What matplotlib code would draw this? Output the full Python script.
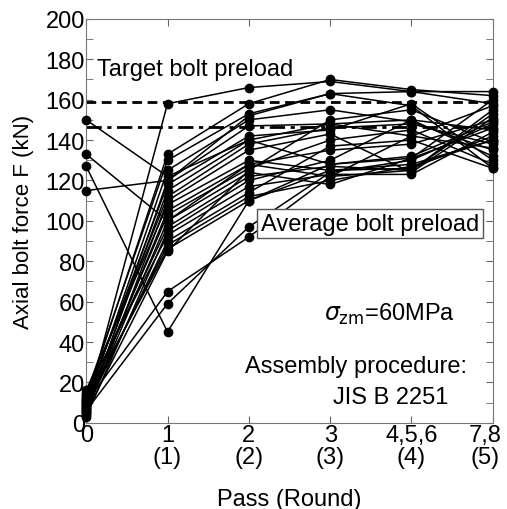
import numpy as np
import matplotlib
matplotlib.use("Agg")
import matplotlib.pyplot as plt
from matplotlib.ticker import MultipleLocator
from matplotlib.transforms import ScaledTranslation

plt.rcParams['font.family'] = ['Liberation Sans', 'DejaVu Sans']

# pass positions and tick labels
passes = [0, 1, 2, 3, 4, 5]
pass_labels = ["0", "1\n(1)", "2\n(2)", "3\n(3)", "4,5,6\n(4)", "7,8\n(5)"]

# bolt forces (kN) per pass
p0 = [150, 133, 127, 115, 8, 10, 6, 12, 14, 9, 5, 11, 7, 13, 4, 16, 8, 10, 6, 12, 3, 15, 7, 9, 11, 5]
p1 = [122, 100, 45, 120, 158, 65, 59, 133, 130, 125, 120, 118, 115, 112, 110, 108, 105, 103, 100, 97, 95, 93, 90, 88, 86, 85]
p2 = [140, 128, 110, 152, 166, 92, 97, 158, 153, 150, 147, 142, 140, 138, 135, 130, 128, 126, 124, 122, 120, 117, 114, 112, 110, 125]
p3 = [148, 135, 125, 163, 169, 122, 124, 170, 163, 155, 148, 145, 128, 146, 143, 125, 122, 140, 118, 127, 130, 123, 137, 120, 128, 150]
p4 = [150, 138, 128, 164, 164, 125, 130, 165, 157, 149, 142, 158, 131, 148, 124, 126, 142, 145, 131, 125, 150, 123, 140, 127, 132, 155]
p5 = [145, 150, 140, 158, 164, 155, 148, 162, 126, 135, 157, 130, 160, 138, 151, 142, 136, 128, 146, 153, 132, 144, 126, 140, 149, 139]

target = 159
average = 146.5

fs = 17

fig = plt.figure(figsize=(5.07, 5.10), dpi=100)
ax = fig.add_axes([0.170, 0.169, 0.802, 0.792])

for i in range(len(p0)):
    ys = [p0[i], p1[i], p2[i], p3[i], p4[i], p5[i]]
    ax.plot(passes, ys, color='black', lw=1.1, marker='o', ms=6,
            clip_on=False, zorder=3)

ax.axhline(target, color='black', ls=(0, (3.5, 2)), lw=2, zorder=2)
ax.axhline(average, color='black', ls=(0, (5.5, 2, 1.5, 2)), lw=2, zorder=2)

ax.text(0.135, 175, "Target bolt preload", fontsize=fs, va='center', ha='left')
ax.text(2.15, 98.5, "Average bolt preload", fontsize=fs, va='center', ha='left',
        bbox=dict(boxstyle='square,pad=0.15', fc='white', ec='#555555', lw=1),
        zorder=5)
ax.text(2.93, 54, r"$\sigma_{\rm zm}$=60MPa", fontsize=fs, va='center', ha='left')
ax.text(4.68, 28, "Assembly procedure:", fontsize=fs, va='center', ha='right')
ax.text(4.45, 13, "JIS B 2251", fontsize=fs, va='center', ha='right')

ax.set_xlim(0, 5)
ax.set_ylim(0, 200)
ax.set_xticks(passes)
ax.set_xticklabels(pass_labels, fontsize=fs, linespacing=1.0)
ax.yaxis.set_major_locator(MultipleLocator(20))
ax.yaxis.set_minor_locator(MultipleLocator(10))
ax.tick_params(axis='both', which='both', direction='in', top=True, right=True,
               colors='#666666', labelcolor='black', labelsize=fs)
ax.tick_params(axis='both', which='major', length=5, pad=1)
ax.tick_params(axis='y', which='minor', length=5)
for s in ax.spines.values():
    s.set_color('#777777')

# last label sits a little left so it stays inside the figure
last = ax.get_xticklabels()[-1]
last.set_transform(last.get_transform() + ScaledTranslation(-0.08, 0, fig.dpi_scale_trans))

ax.set_xlabel("Pass (Round)", fontsize=fs, labelpad=14)
ax.set_ylabel("Axial bolt force F (kN)", fontsize=16, labelpad=8)

fig.savefig("out.png", dpi=100)
